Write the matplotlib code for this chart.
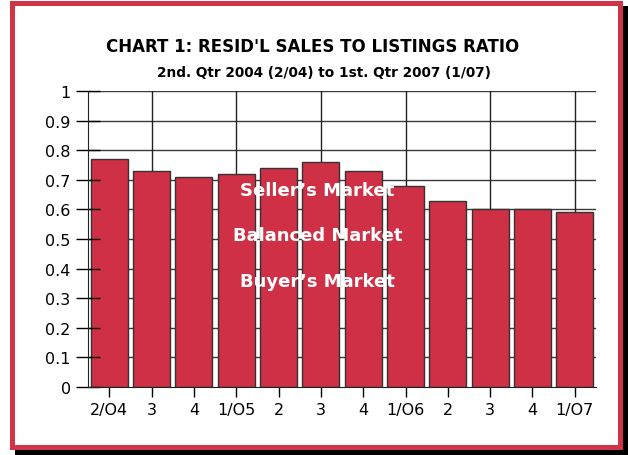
import matplotlib
matplotlib.use("Agg")
import matplotlib.pyplot as plt
from matplotlib.patches import Rectangle

quarters = ["2/O4", "3", "4", "1/O5", "2", "3", "4", "1/O6", "2", "3", "4", "1/O7"]
ratios = [0.77, 0.73, 0.71, 0.72, 0.74, 0.76, 0.73, 0.68, 0.63, 0.60, 0.60, 0.59]
market_labels = ["Seller\u2019s Market", "Balanced Market", "Buyer\u2019s Market"]
market_levels = [0.665, 0.513, 0.357]

plt.rcParams['font.family'] = ['DejaVu Sans']

W, H = 628, 456
fig = plt.figure(figsize=(W / 100, H / 100), dpi=100)

# frame with drop shadow (drawn below the axes)
fig.add_artist(Rectangle((15 / W, 0), (W - 15) / W, 449 / H, transform=fig.transFigure,
                         facecolor='black', edgecolor='none', zorder=-2))
fig.add_artist(Rectangle((11.5 / W, 8.5 / H), 608 / W, 444 / H, transform=fig.transFigure,
                         facecolor='white', edgecolor='#D13347', linewidth=3.6, zorder=-1))

ax = fig.add_axes([88 / W, (H - 388) / H, (596 - 88) / W, (388 - 92) / H])
ax.patch.set_alpha(0)

x = list(range(len(quarters)))
ax.bar(x, ratios, width=0.88, color='#CF3046', edgecolor='#333333', linewidth=1, zorder=1)

# grid behind the bars
for v in [i / 10 for i in range(1, 11)]:
    ax.axhline(v, color='#3a3a3a', linewidth=1, zorder=0.5)
for i in range(1, len(quarters), 2):
    ax.axvline(i, color='#222222', linewidth=1, zorder=0.5)

ax.set_xlim(-0.5, 11.5)
ax.set_ylim(0, 1)
ax.set_yticks([i / 10 for i in range(11)])
ax.set_yticklabels(["0"] + ["0.%d" % i for i in range(1, 10)] + ["1"])
ax.set_xticks(x)
ax.set_xticklabels(quarters)
ax.tick_params(axis='y', direction='inout', length=17, width=1, labelsize=11.5, pad=4)
ax.tick_params(axis='x', direction='out', length=7, width=1, labelsize=11.5, pad=4)

for s in ['top', 'right']:
    ax.spines[s].set_visible(False)
ax.spines['left'].set_color('#222222')
ax.spines['bottom'].set_color('#222222')

for lab, lv in zip(market_labels, market_levels):
    ax.text(4.92, lv, lab, color='white', fontsize=13, fontweight='bold',
            ha='center', va='center', zorder=3)

fig.text(313 / W, 1 - 47 / H, "CHART 1: RESID'L SALES TO LISTINGS RATIO",
         ha='center', va='center', fontsize=12, fontweight='bold')
fig.text(324 / W, 1 - 73 / H, "2nd. Qtr 2004 (2/04) to 1st. Qtr 2007 (1/07)",
         ha='center', va='center', fontsize=9.8, fontweight='bold')

fig.savefig("out.png", dpi=100)
